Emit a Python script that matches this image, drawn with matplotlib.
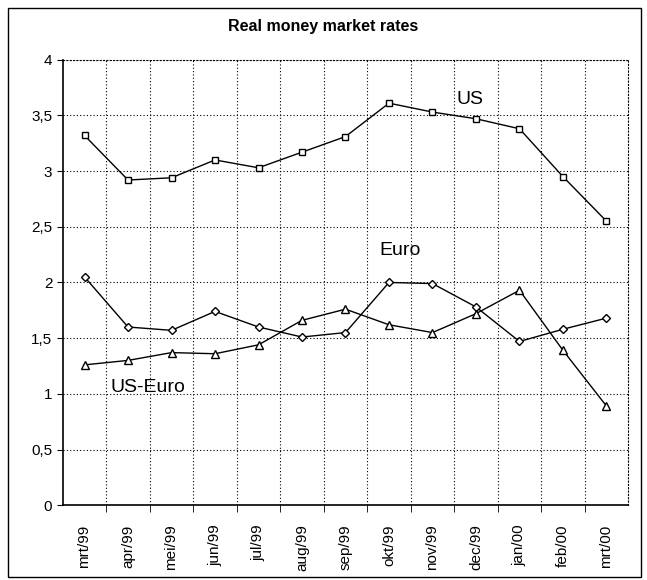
import matplotlib.pyplot as plt
from matplotlib.patches import Rectangle

plt.rcParams['font.family'] = ['Liberation Sans Narrow', 'Liberation Sans', 'DejaVu Sans']

months = ["mrt/99", "apr/99", "mei/99", "jun/99", "jul/99", "aug/99", "sep/99",
          "okt/99", "nov/99", "dec/99", "jan/00", "feb/00", "mrt/00"]
us = [3.32, 2.92, 2.94, 3.10, 3.03, 3.17, 3.31, 3.61, 3.53, 3.47, 3.38, 2.95, 2.55]
euro = [2.05, 1.60, 1.57, 1.74, 1.60, 1.51, 1.55, 2.00, 1.99, 1.78, 1.47, 1.58, 1.68]
us_euro = [1.26, 1.30, 1.37, 1.36, 1.44, 1.66, 1.76, 1.62, 1.55, 1.72, 1.93, 1.39, 0.89]
yticks = [0, 0.5, 1, 1.5, 2, 2.5, 3, 3.5, 4]
ylabels = ["0", "0,5", "1", "1,5", "2", "2,5", "3", "3,5", "4"]

fig = plt.figure(figsize=(6.47, 5.8), dpi=100)
ax = fig.add_axes([0.097, 0.129, 0.874, 0.768])

x = list(range(len(months)))
ax.plot(x, us, color="black", lw=1, marker="s", ms=5, mfc="white", mec="black", mew=1)
ax.plot(x, euro, color="black", lw=1, marker="D", ms=4.5, mfc="white", mec="black", mew=1)
ax.plot(x, us_euro, color="black", lw=1, marker="^", ms=6, mfc="white", mec="black", mew=1)

ax.set_xlim(-0.5, len(months) - 0.5)
ax.set_ylim(0, 4)
ax.set_yticks(yticks)
ax.set_yticklabels(ylabels, fontsize=11)
ax.set_xticks(x)
ax.set_xticklabels(months, rotation=90, fontsize=11)
ax.tick_params(axis="x", length=0, pad=14)
ax.set_xticks([i - 0.5 for i in range(1, len(months))], minor=True)
ax.tick_params(axis="x", which="minor", length=5, direction="out")
ax.tick_params(axis="y", length=4, direction="out")

ax.grid(True, which="minor", axis="x", linestyle=(0, (1, 2)), color="black", lw=0.8)
ax.grid(True, which="major", axis="y", linestyle=(0, (1, 2)), color="black", lw=0.8)

for s in ["top", "right"]:
    ax.spines[s].set_linestyle((0, (1, 2)))
ax.spines["left"].set_linewidth(1.2)
ax.spines["bottom"].set_linewidth(1.2)

ax.text(8.87, 3.64, "US", fontsize=14, ha="center", va="center")
ax.text(7.25, 2.29, "Euro", fontsize=14, ha="center", va="center")
ax.text(1.46, 1.06, "US-Euro", fontsize=14, ha="center", va="center")

fig.text(0.5, 0.955, "Real money market rates", fontsize=11.5, fontweight="bold",
         ha="center", va="center")
fig.patches.append(Rectangle((0.012, 0.005), 0.978, 0.982, transform=fig.transFigure,
                             fill=False, edgecolor="black", lw=1))

fig.savefig("out.png", dpi=100)
